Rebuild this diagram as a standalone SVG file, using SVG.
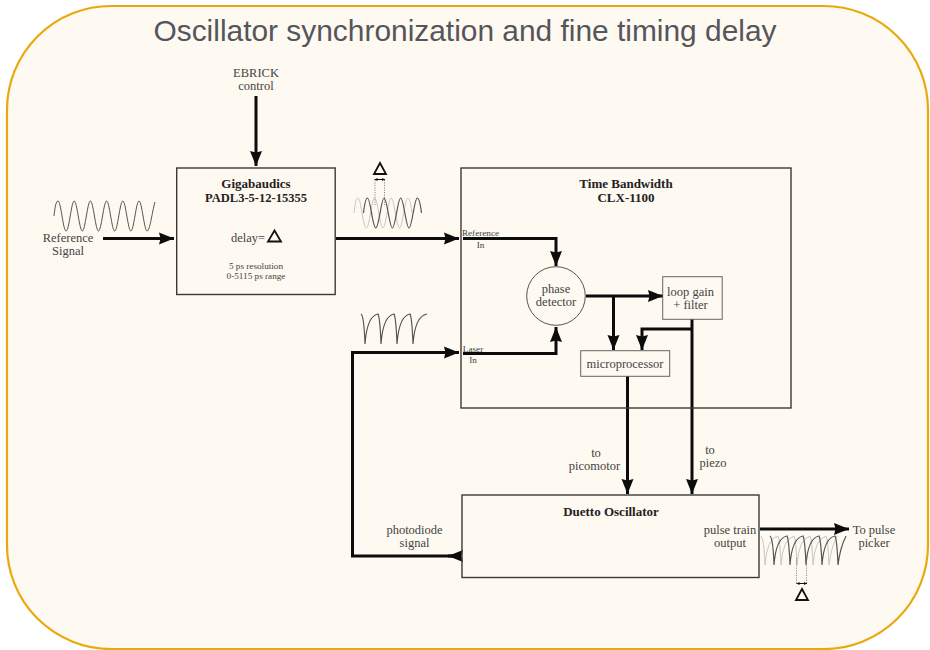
<svg xmlns="http://www.w3.org/2000/svg" width="930" height="650" viewBox="0 0 930 650">
<style>
text{font-family:"Liberation Serif","Times New Roman",serif;fill:#444;text-anchor:middle}
.t{font-family:"Liberation Sans",Arial,sans-serif;font-size:29.9px;fill:#54565a}
.b{font-weight:bold;font-size:13px;fill:#222}
.m{font-size:12.500px}.s{font-size:9.200px}
.box{fill:none;stroke:#3c3a36;stroke-width:1.4}
.c{fill:none;stroke:#0c0c0c;stroke-width:3}
.tri{fill:none;stroke:#111;stroke-width:1.8}
.dark{fill:none;stroke:#555;stroke-width:1.200}
.light{fill:none;stroke:#c8c8c4;stroke-width:1}
.dot{stroke:#777;stroke-width:.8;stroke-dasharray:1.2 1.2;fill:none}
.tick{stroke:#111;stroke-width:1;fill:none;marker-start:url(#sl);marker-end:url(#sr)}
</style>
<defs>
<marker id="a" markerUnits="userSpaceOnUse" markerWidth="18" markerHeight="14" refX="15" refY="6.500" orient="auto"><path d="M0 0.500L15 6.500L0 12.500L1.500 6.500Z" fill="#0c0c0c"/></marker>
<marker id="sl" markerUnits="userSpaceOnUse" markerWidth="5" markerHeight="5" refX="0" refY="2" orient="auto"><path d="M0 2L3 0.500V3.500Z" fill="#111"/></marker>
<marker id="sr" markerUnits="userSpaceOnUse" markerWidth="5" markerHeight="5" refX="3" refY="2" orient="auto"><path d="M3 2L0 0.500V3.500Z" fill="#111"/></marker>
<path id="sine6" d="M54 216C55 207 56 201 58 201C61 201 63 231 66.100 231S71.300 201 74.200 201S79.400 231 82.300 231S87.500 201 90.400 201S95.600 231 98.500 231S103.700 201 106.600 201S111.800 231 114.700 231S119.900 201 122.800 201S128 231 130.900 231S136.100 201 139 201S144.200 231 147.100 231S152 212 155 202"/>
<path id="sine4" d="M0 15C1 6 2 0 4 0C7 0 9 30 12.300 30S17.600 0 20.600 0S25.900 30 28.900 30S34.200 0 37.200 0S42.500 30 45.500 30S50.800 0 53.800 0C55.800 0 57 7 58 15"/>
<path id="pulse4" d="M0 0Q3 2 4 30Q6 2 17 0Q19 4 20 30Q22 2 33 0Q35 4 36 30Q38 2 49 0Q51 4 52 30Q54 2 66 0"/>
<path id="pulse5" d="M0 0Q3 2 4 29Q6 2 17 0Q19 4 20 29Q22 2 33 0Q35 4 36 29Q38 2 49 0Q51 4 52 29Q54 2 65 0Q67 4 68 29Q70 12 76 0"/>
</defs>
<rect id="panel" x="7" y="6" width="921" height="643" rx="104" ry="104" fill="#fef9f1" stroke="#e8a90d" stroke-width="2.200"/>
<text class="t" x="465" y="41">Oscillator synchronization and fine timing delay</text>

<g id="connectors">
<path class="c" marker-end="url(#a)" d="M256 96V166"/>
<path class="c" marker-end="url(#a)" d="M103 238.500H174"/>
<path class="c" marker-end="url(#a)" d="M336 238.500H459"/>
<path class="c" marker-end="url(#a)" d="M463 238.500H556V266"/>
<path class="c" marker-end="url(#a)" d="M463 353.500H556V327"/>
<path class="c" marker-end="url(#a)" d="M461 556H352.500V352.500H459"/>
<path class="c" marker-end="url(#a)" d="M461 556H448"/>
<path class="c" marker-end="url(#a)" d="M586 296H663"/>
<path class="c" marker-end="url(#a)" d="M613.500 296V350"/>
<path class="c" marker-end="url(#a)" d="M692 319V494"/>
<path class="c" marker-end="url(#a)" d="M692 329H642V350"/>
<path class="c" marker-end="url(#a)" d="M627.500 376V494"/>
<path class="c" marker-end="url(#a)" d="M760 529H849"/>
</g>

<g id="ref-wave"><use href="#sine6" fill="none" stroke="#555" stroke-width="1"/>
<text class="m" x="68" y="242">Reference</text><text class="m" x="68" y="255">Signal</text></g>

<g id="ebrick"><text class="m" x="256" y="77">EBRICK</text><text class="m" x="256" y="90">control</text></g>

<g id="gigabaudics">
<rect class="box" x="176.700" y="168" width="158.500" height="126.500"/>
<text class="b" x="256" y="187.500">Gigabaudics</text>
<text class="b" x="256" y="201.500" style="font-size:12.500px">PADL3-5-12-15355</text>
<text class="m" x="248" y="241.500">delay=</text>
<path class="tri" d="M274.500 230.500L281 241.500H268Z"/>
<text class="s" x="256" y="269">5 ps resolution</text>
<text class="s" x="256" y="279">0-5115 ps range</text>
</g>

<g id="delayed-wave">
<use href="#sine4" x="354" y="198" class="light"/>
<use href="#sine4" x="363.500" y="198" class="dark"/>
<path class="dot" d="M375 180V205M384.500 180V205"/>
<path class="tick" d="M374.500 179.500H385"/>
<path class="tri" d="M380 163L386 174H374Z"/>
</g>

<g id="laser-wave"><use href="#pulse4" x="361" y="314" class="dark"/></g>

<g id="time-bandwidth">
<rect class="box" x="461" y="168" width="330" height="240"/>
<text class="b" x="626" y="187.500">Time Bandwidth</text>
<text class="b" x="626" y="202">CLX-1100</text>
<text class="s" x="480.500" y="235.500">Reference</text>
<text class="s" x="480.500" y="248">In</text>
<text class="s" x="473" y="351.500">Laser</text>
<text class="s" x="473" y="363">In</text>
</g>

<g id="phase-detector">
<circle cx="556" cy="296" r="29.300" fill="none" stroke="#555" stroke-width="1"/>
<text class="m" x="556" y="293">phase</text><text class="m" x="556" y="306">detector</text>
</g>

<g id="loop-gain">
<rect x="662.700" y="276.700" width="59.500" height="42.600" fill="none" stroke="#666" stroke-width="1"/>
<text class="m" x="690.500" y="296">loop gain</text><text class="m" x="690.500" y="309">+ filter</text>
</g>

<g id="microprocessor">
<rect x="580.700" y="350.700" width="89" height="25.600" fill="none" stroke="#666" stroke-width="1"/>
<text class="m" x="625" y="368">microprocessor</text>
</g>

<text class="m" x="596" y="457">to</text><text class="m" x="594.500" y="470">picomotor</text>
<text class="m" x="710" y="454">to</text><text class="m" x="713" y="467">piezo</text>

<g id="duetto">
<rect class="box" x="462" y="495" width="297" height="82.500"/>
<text class="b" x="611" y="516">Duetto Oscillator</text>
<text class="m" x="730" y="534">pulse train</text><text class="m" x="730" y="547">output</text>
</g>

<text class="m" x="414.500" y="533.500">photodiode</text><text class="m" x="414.500" y="546.500">signal</text>
<text class="m" x="874" y="534">To pulse</text><text class="m" x="874" y="547">picker</text>

<g id="output-train">
<use href="#pulse5" x="761" y="536" class="light"/>
<use href="#pulse5" x="770" y="536" class="dark"/>
<path class="dot" d="M796.500 558V583M806.500 558V583"/>
<path class="tick" d="M796.500 583.500H807"/>
<path class="tri" d="M802 589L808 600H796Z"/>
</g>
</svg>
